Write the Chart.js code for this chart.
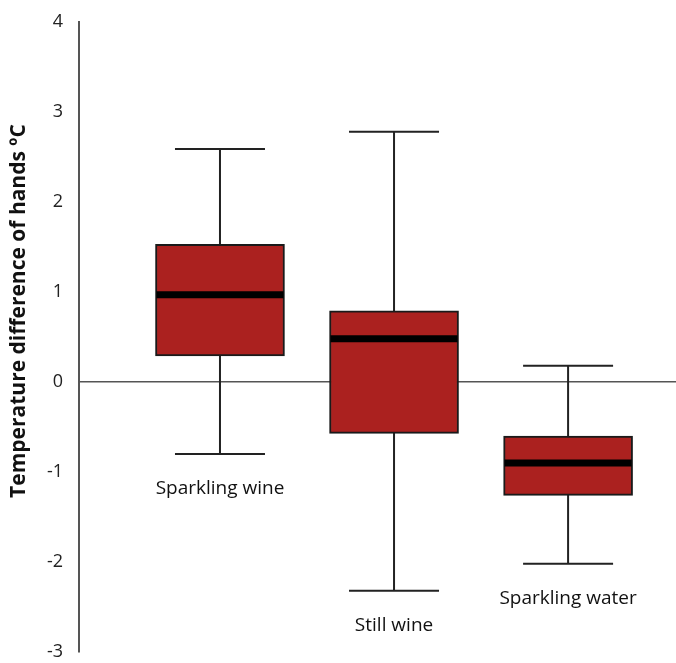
<!DOCTYPE html>
<html lang="en">
<head>
    <meta charset="UTF-8">
    <title>Temperature difference of hands</title>
    <script src="https://cdn.jsdelivr.net/npm/chart.js"></script>
    <style>
        body {
            margin: 0;
            background: #fff;
            overflow: hidden;
        }
    </style>
</head>
<body>
    <canvas id="box-chart" width="676" height="663"></canvas>

    <script>
        // Box plot values (ºC)
        const categories = ['Sparkling wine', 'Still wine', 'Sparkling water'];
        const positions = [1, 2, 3];
        const whiskerLow = [-0.80, -2.32, -2.02];
        const q1 = [0.29, -0.57, -1.26];
        const median = [0.97, 0.48, -0.90];
        const q3 = [1.53, 0.79, -0.60];
        const whiskerHigh = [2.59, 2.78, 0.18];
        const yTicks = [-3, -2, -1, 0, 1, 2, 3, 4];

        const yTitle = 'Temperature difference of hands ºC';
        const textFont = '"Open Sans", "DejaVu Sans", sans-serif';

        // whiskers go under the boxes, medians and labels on top
        const boxPlotExtras = {
            id: 'boxPlotExtras',
            beforeDatasetsDraw(chart) {
                const ctx = chart.ctx;
                const x = chart.scales.x, y = chart.scales.y;
                ctx.save();
                ctx.strokeStyle = '#222';
                ctx.lineWidth = 2;
                positions.forEach((p, i) => {
                    const cx = x.getPixelForValue(p);
                    const top = y.getPixelForValue(whiskerHigh[i]);
                    const bot = y.getPixelForValue(whiskerLow[i]);
                    ctx.beginPath();
                    ctx.moveTo(cx, top);
                    ctx.lineTo(cx, bot);
                    ctx.moveTo(cx - 45, top);
                    ctx.lineTo(cx + 45, top);
                    ctx.moveTo(cx - 45, bot);
                    ctx.lineTo(cx + 45, bot);
                    ctx.stroke();
                });
                ctx.restore();
            },
            afterDatasetsDraw(chart) {
                const ctx = chart.ctx;
                const x = chart.scales.x, y = chart.scales.y;
                const bars = chart.getDatasetMeta(0).data;
                ctx.save();
                ctx.strokeStyle = '#000';
                ctx.lineWidth = 7;
                positions.forEach((p, i) => {
                    const half = bars[i].width / 2;
                    const cx = x.getPixelForValue(p);
                    const my = y.getPixelForValue(median[i]);
                    ctx.beginPath();
                    ctx.moveTo(cx - half + 1, my);
                    ctx.lineTo(cx + half - 1, my);
                    ctx.stroke();
                });

                // category names under the lower whiskers
                ctx.fillStyle = '#111';
                ctx.font = '19px ' + textFont;
                ctx.textAlign = 'center';
                ctx.textBaseline = 'middle';
                positions.forEach((p, i) => {
                    ctx.fillText(categories[i], x.getPixelForValue(p), y.getPixelForValue(whiskerLow[i]) + 35);
                });

                // axis title
                ctx.font = 'bold 21px ' + textFont;
                ctx.translate(19, 311);
                ctx.rotate(-Math.PI / 2);
                ctx.fillText(yTitle, 0, 0);
                ctx.restore();
            }
        };

        new Chart(document.getElementById('box-chart'), {
            type: 'bar',
            data: {
                datasets: [{
                    data: positions.map((p, i) => ({ x: p, y: [q1[i], q3[i]] })),
                    backgroundColor: '#AB211F',
                    borderColor: '#1a1a1a',
                    borderWidth: 2,
                    borderSkipped: false,
                    barThickness: 129
                }]
            },
            options: {
                responsive: false,
                animation: false,
                layout: { padding: { top: 22, bottom: 11, left: 0, right: 0 } },
                plugins: {
                    legend: { display: false },
                    tooltip: { enabled: false }
                },
                scales: {
                    x: {
                        type: 'linear',
                        display: false,
                        offset: false,
                        min: 0.19,
                        max: 3.62
                    },
                    y: {
                        min: yTicks[0],
                        max: yTicks[yTicks.length - 1],
                        afterFit(scale) { scale.width = 79; },
                        border: { display: true, color: '#555', width: 2 },
                        grid: {
                            drawTicks: true,
                            tickLength: 16,
                            tickColor: 'rgba(0,0,0,0)',
                            lineWidth: 1.5,
                            color: c => (c.tick && c.tick.value === 0) ? '#555' : 'rgba(0,0,0,0)'
                        },
                        ticks: {
                            stepSize: 1,
                            padding: 0,
                            color: '#222',
                            font: { family: textFont, size: 18 }
                        }
                    }
                }
            },
            plugins: [boxPlotExtras]
        });
    </script>
</body>
</html>
